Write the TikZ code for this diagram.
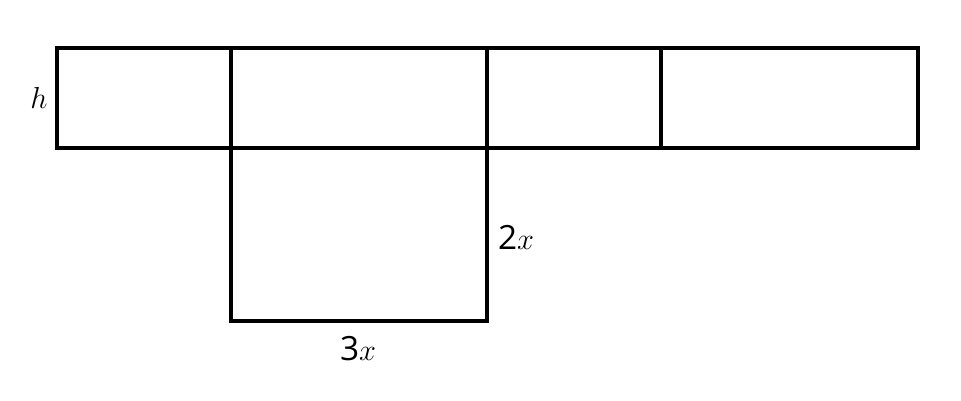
\documentclass[tikz,border=0pt]{standalone}
\usepackage{fontspec}
\newfontfamily\digitfont{Open Sans}
\begin{document}
\begin{tikzpicture}[x=0.02cm,y=-0.02cm,line width=1.9pt]
\tikzset{lbl/.style={font=\fontsize{19}{23}\selectfont,inner sep=0pt}}
\useasboundingbox (0,0) rectangle (961,400);
% top strip
\foreach \a/\b in {57/231,231/487,487/661,661/918} {
    \draw (\a,48) rectangle (\b,148);
}
% bottom face
\draw (231,148) rectangle (487,321);
\node[lbl] (h) at (39,98) {$h$};
\node[lbl] (w) at (516,237) {{\digitfont 2}$x$};
\node[lbl] (l) at (358,349) {{\digitfont 3}$x$};
\end{tikzpicture}
\end{document}
